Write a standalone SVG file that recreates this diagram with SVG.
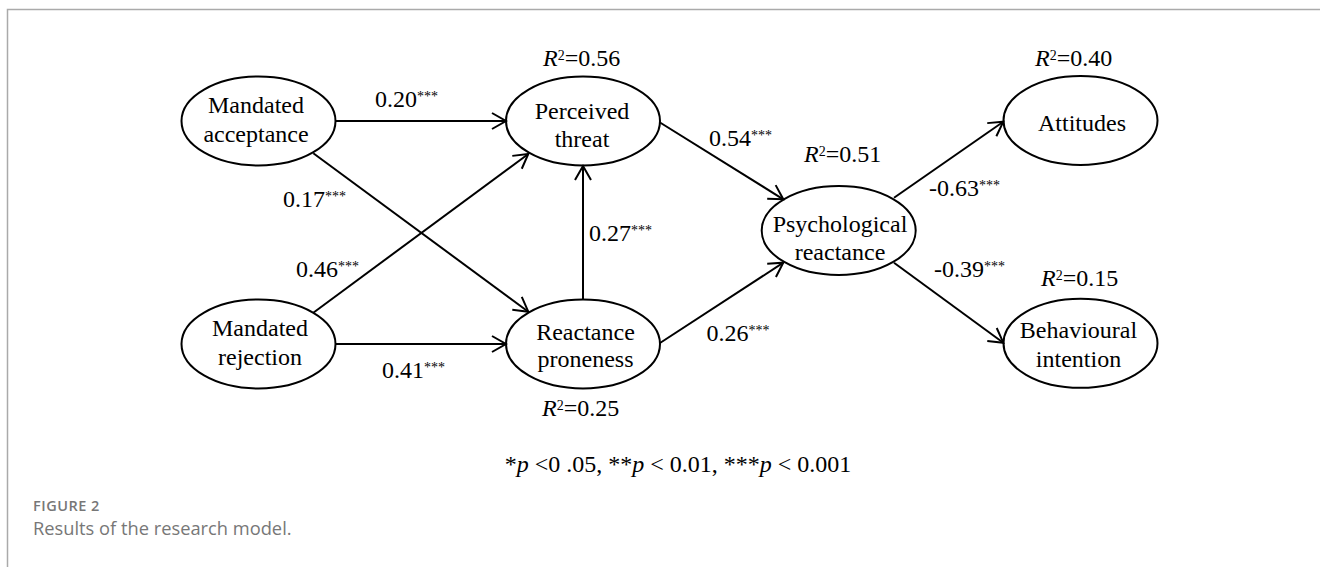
<svg xmlns="http://www.w3.org/2000/svg" width="1320" height="567" viewBox="0 0 1320 567">
<defs>
<marker id="arr" markerUnits="userSpaceOnUse" markerWidth="20" markerHeight="20" viewBox="-16 -10 18 20" refX="0" refY="0" orient="auto">
<path d="M-14,-8 L0,0 L-14,8" fill="none" stroke="#000" stroke-width="2"/>
</marker>
<style>
.node ellipse{fill:#fff;stroke:#000;stroke-width:2}
.t{font-family:"Liberation Serif","Times New Roman",serif;font-size:24px;fill:#000}
.c{text-anchor:middle}
.sup{font-size:14px}
.i{font-style:italic}
.edge line{stroke:#000;stroke-width:2;fill:none;marker-end:url(#arr)}
.cap{font-family:"Open Sans","Liberation Sans",sans-serif;fill:#777}
</style>
</defs>
<rect x="0" y="0" width="1320" height="567" fill="#fff"/>
<path d="M7.5,567 V9.5 H1320" fill="none" stroke="#aaa" stroke-width="1.5"/>

<g id="mandated-acceptance" class="node">
<ellipse cx="258.5" cy="121" rx="77" ry="44.5"/>
<text class="t c" x="256"><tspan x="256" y="113">Mandated</tspan><tspan x="256" y="142">acceptance</tspan></text>
</g>
<g id="perceived-threat" class="node">
<ellipse cx="583" cy="121" rx="77" ry="44.5"/>
<text class="t c"><tspan x="582" y="119">Perceived</tspan><tspan x="582" y="147">threat</tspan></text>
<text class="t" x="543" y="65.5"><tspan class="i">R</tspan><tspan class="sup" dy="-6">2</tspan><tspan dy="6">=0.56</tspan></text>
</g>
<g id="mandated-rejection" class="node">
<ellipse cx="258.5" cy="344" rx="77" ry="44.5"/>
<text class="t c"><tspan x="260" y="336">Mandated</tspan><tspan x="260" y="365">rejection</tspan></text>
</g>
<g id="reactance-proneness" class="node">
<ellipse cx="583" cy="344" rx="77" ry="44.5"/>
<text class="t c"><tspan x="585.5" y="340">Reactance</tspan><tspan x="585.5" y="366.5">proneness</tspan></text>
<text class="t" x="542" y="416"><tspan class="i">R</tspan><tspan class="sup" dy="-6">2</tspan><tspan dy="6">=0.25</tspan></text>
</g>
<g id="psychological-reactance" class="node">
<ellipse cx="838.7" cy="230.5" rx="77" ry="44.5"/>
<text class="t c"><tspan x="840" y="231.5">Psychological</tspan><tspan x="840" y="260">reactance</tspan></text>
<text class="t" x="804" y="161.5"><tspan class="i">R</tspan><tspan class="sup" dy="-6">2</tspan><tspan dy="6">=0.51</tspan></text>
</g>
<g id="attitudes" class="node">
<ellipse cx="1080.5" cy="120.5" rx="77" ry="44.5"/>
<text class="t c" x="1082" y="130.5">Attitudes</text>
<text class="t" x="1035" y="65.5"><tspan class="i">R</tspan><tspan class="sup" dy="-6">2</tspan><tspan dy="6">=0.40</tspan></text>
</g>
<g id="behavioural-intention" class="node">
<ellipse cx="1080.5" cy="343.3" rx="77" ry="44.5"/>
<text class="t c"><tspan x="1078.5" y="338.3">Behavioural</tspan><tspan x="1078.5" y="366.5">intention</tspan></text>
<text class="t" x="1041" y="285.5"><tspan class="i">R</tspan><tspan class="sup" dy="-6">2</tspan><tspan dy="6">=0.15</tspan></text>
</g>

<g id="connectors" class="edge">
<line x1="335.5" y1="121" x2="506" y2="121"/>
<line x1="313.3" y1="153.3" x2="528.3" y2="311.7"/>
<line x1="313.3" y1="312.7" x2="528.3" y2="154"/>
<line x1="335.5" y1="344" x2="506" y2="344"/>
<line x1="583" y1="299.5" x2="583" y2="166"/>
<line x1="660" y1="122.5" x2="783.3" y2="199.3"/>
<line x1="660" y1="343" x2="783.3" y2="262.7"/>
<line x1="894" y1="197.7" x2="1003.3" y2="121.7"/>
<line x1="894" y1="262.7" x2="1003.3" y2="342.7"/>
<text class="t" x="375" y="106.7">0.20<tspan class="sup" dy="-6">***</tspan></text>
<text class="t" x="283" y="206.5">0.17<tspan class="sup" dy="-6">***</tspan></text>
<text class="t" x="296" y="276.7">0.46<tspan class="sup" dy="-6">***</tspan></text>
<text class="t" x="589" y="240.7">0.27<tspan class="sup" dy="-6">***</tspan></text>
<text class="t" x="382" y="377.7">0.41<tspan class="sup" dy="-6">***</tspan></text>
<text class="t" x="709" y="145.5">0.54<tspan class="sup" dy="-6">***</tspan></text>
<text class="t" x="706.5" y="341">0.26<tspan class="sup" dy="-6">***</tspan></text>
<text class="t" x="929" y="196">-0.63<tspan class="sup" dy="-6">***</tspan></text>
<text class="t" x="934" y="276.7">-0.39<tspan class="sup" dy="-6">***</tspan></text>
</g>

<text class="t c" x="678" y="472">*<tspan class="i">p</tspan> &lt;0 .05, **<tspan class="i">p</tspan> &lt; 0.01, ***<tspan class="i">p</tspan> &lt; 0.001</text>

<text class="cap" x="33" y="511" font-size="14.5" font-weight="600" letter-spacing="0.5" fill="#888">FIGURE 2</text>
<text class="cap" x="33" y="535" font-size="18.3">Results of the research model.</text>
</svg>
